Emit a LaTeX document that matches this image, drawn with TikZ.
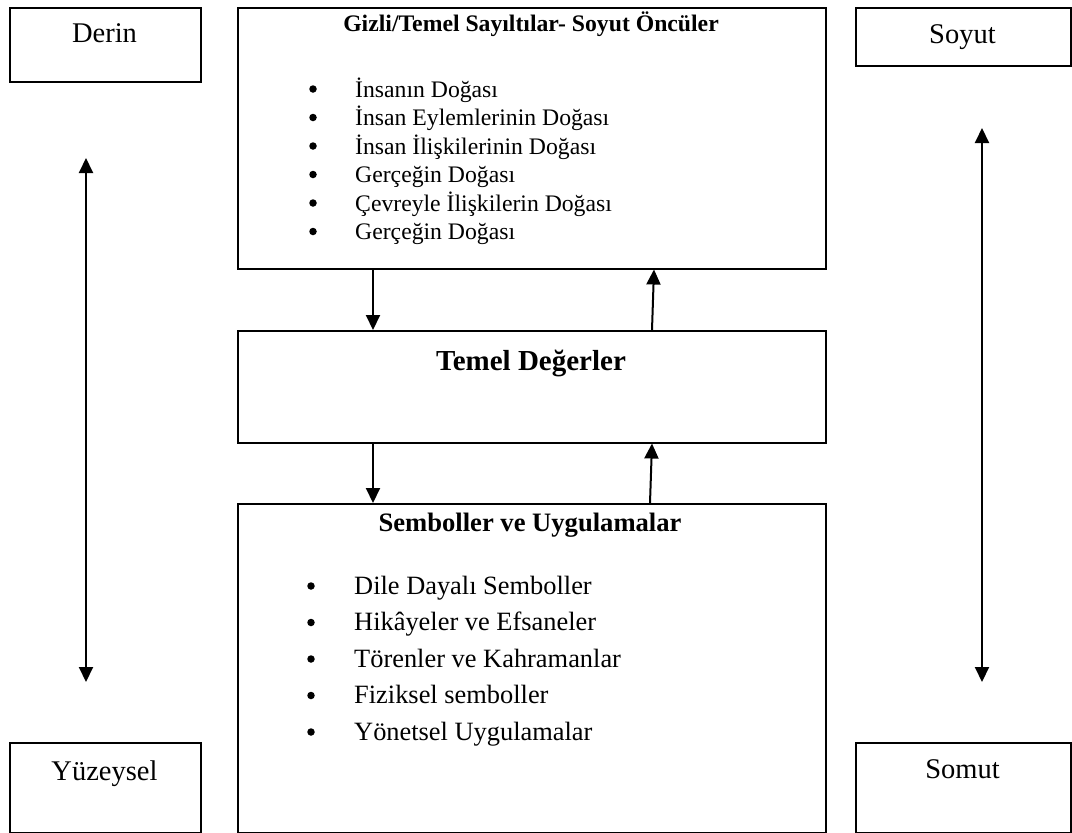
\documentclass[tikz,border=0pt]{standalone}
\usepackage{fontspec}
\setmainfont{Liberation Serif}
\usetikzlibrary{arrows.meta}
\begin{document}
\begin{tikzpicture}[x=1pt,y=-1pt,
  boxnode/.style={draw=black, line width=1.5pt, inner sep=0pt, anchor=north west},
  sidetext/.style={font=\fontsize{28.5}{30}\selectfont, anchor=base, inner sep=0pt},
  toptitle/.style={font=\fontsize{23.7}{26}\selectfont\bfseries, anchor=base, inner sep=0pt},
  temeltitle/.style={font=\fontsize{29}{32}\selectfont\bfseries, anchor=base, inner sep=0pt},
  sembtitle/.style={font=\fontsize{26.6}{30}\selectfont\bfseries, anchor=base, inner sep=0pt},
  topitem/.style={font=\fontsize{23.7}{26}\selectfont, anchor=base west, inner sep=0pt},
  sembitem/.style={font=\fontsize{26.4}{30}\selectfont, anchor=base west, inner sep=0pt},
  bulletdot/.style={circle, fill=black, draw=none, inner sep=0pt, minimum size=7.5pt},
  arr/.style={line width=2pt, -{Triangle[length=15pt,width=14pt]}},
  darr/.style={line width=2pt, {Triangle[length=15pt,width=14pt]}-{Triangle[length=15pt,width=14pt]}}
]
\useasboundingbox (0,0) rectangle (1072,833);

% side boxes
\node[boxnode, minimum width=191pt, minimum height=74pt] (derin) at (9,7) {};
\node[sidetext] (derint) at (104.5,42) {Derin};
\node[boxnode, minimum width=215pt, minimum height=58pt] (soyut) at (855,7) {};
\node[sidetext] (soyutt) at (962.5,43) {Soyut};
\node[boxnode, minimum width=191pt, minimum height=90pt] (yuz) at (9,742) {};
\node[sidetext] (yuzt) at (104.5,780) {Yüzeysel};
\node[boxnode, minimum width=215pt, minimum height=90pt] (somut) at (855,742) {};
\node[sidetext] (somutt) at (962.5,778) {Somut};

% top box
\node[boxnode, minimum width=588pt, minimum height=261pt] (topbox) at (237,7) {};
\node[toptitle] (toptitle) at (531,31) {Gizli/Temel Sayıltılar- Soyut Öncüler};
\node[bulletdot] (tb1) at (313,89) {};
\node[topitem] (ti1) at (355,97) {İnsanın Doğası};
\node[bulletdot] (tb2) at (313,117.5) {};
\node[topitem] (ti2) at (355,125.5) {İnsan Eylemlerinin Doğası};
\node[bulletdot] (tb3) at (313,146) {};
\node[topitem] (ti3) at (355,154) {İnsan İlişkilerinin Doğası};
\node[bulletdot] (tb4) at (313,174.5) {};
\node[topitem] (ti4) at (355,182.5) {Gerçeğin Doğası};
\node[bulletdot] (tb5) at (313,203) {};
\node[topitem] (ti5) at (355,211) {Çevreyle İlişkilerin Doğası};
\node[bulletdot] (tb6) at (313,231.5) {};
\node[topitem] (ti6) at (355,239.5) {Gerçeğin Doğası};

% middle box
\node[boxnode, minimum width=588pt, minimum height=112pt] (temel) at (237,330) {};
\node[temeltitle] (temelt) at (531,370) {Temel Değerler};

% bottom box
\node[boxnode, minimum width=588pt, minimum height=329pt] (semb) at (237,503) {};
\node[sembtitle] (sembt) at (530,531) {Semboller ve Uygulamalar};
\node[bulletdot] (sb1) at (311,586) {};
\node[sembitem] (si1) at (354,594) {Dile Dayalı Semboller};
\node[bulletdot] (sb2) at (311,622.5) {};
\node[sembitem] (si2) at (354,630.5) {Hikâyeler ve Efsaneler};
\node[bulletdot] (sb3) at (311,659) {};
\node[sembitem] (si3) at (354,667) {Törenler ve Kahramanlar};
\node[bulletdot] (sb4) at (311,695.5) {};
\node[sembitem] (si4) at (354,703.5) {Fiziksel semboller};
\node[bulletdot] (sb5) at (311,732) {};
\node[sembitem] (si5) at (354,740) {Yönetsel Uygulamalar};

% connectors between center boxes
\coordinate (d1) at (373,0);
\coordinate (u1b) at (652,0);
\coordinate (u1t) at (654,0);
\coordinate (u2b) at (650,0);
\coordinate (u2t) at (652,0);
\draw[arr] (topbox.south -| d1) -- (temel.north -| d1);
\draw[arr] (temel.south -| d1) -- (semb.north -| d1);
\draw[arr] (temel.north -| u1b) -- (topbox.south -| u1t);
\draw[arr] (semb.north -| u2b) -- (temel.south -| u2t);

% side double arrows
\coordinate (la1) at (86,158);
\coordinate (la2) at (86,682);
\coordinate (ra1) at (982,128);
\coordinate (ra2) at (982,682);
\draw[darr] (la1) -- (la2);
\draw[darr] (ra1) -- (ra2);
\end{tikzpicture}
\end{document}
